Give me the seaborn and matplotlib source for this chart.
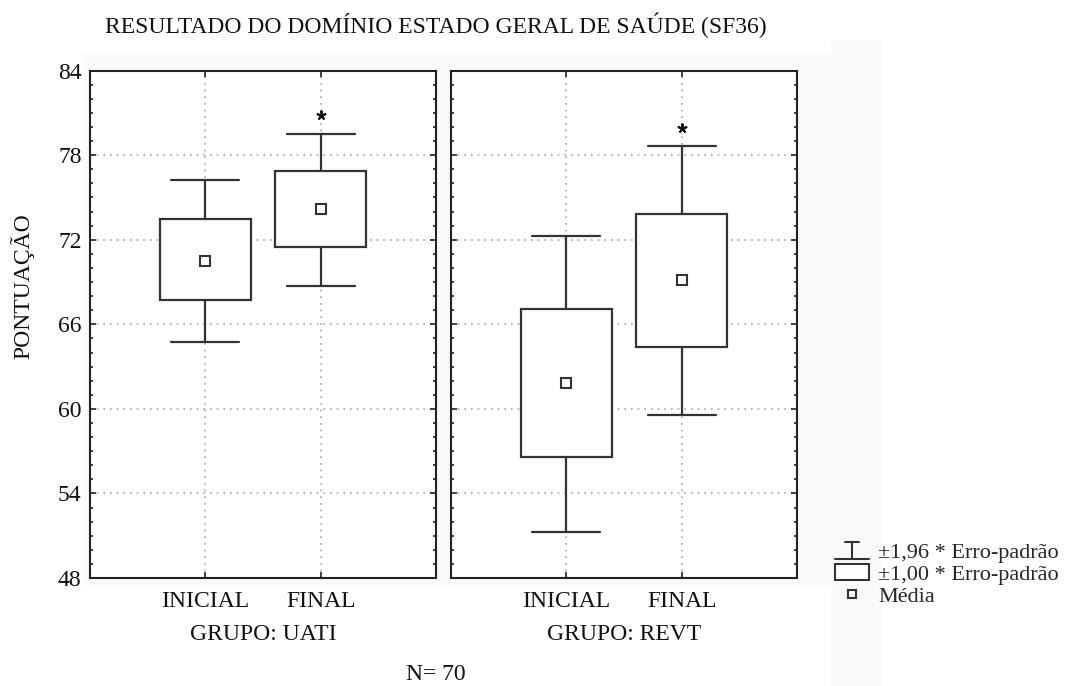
import numpy as np
import pandas as pd
import seaborn as sns
import matplotlib.pyplot as plt
from matplotlib.lines import Line2D
from matplotlib.patches import Patch, Rectangle
from matplotlib.legend_handler import HandlerBase
from matplotlib.ticker import MultipleLocator

# dados (media, +-1 erro padrao, +-1,96 erro padrao)
grupos = ["UATI", "UATI", "REVT", "REVT"]
momentos = ["INICIAL", "FINAL", "INICIAL", "FINAL"]
media = [70.52, 74.18, 61.84, 69.15]
caixa_inf = [67.73, 71.51, 56.56, 64.37]
caixa_sup = [73.50, 76.88, 67.06, 73.85]
bigode_inf = [64.75, 68.72, 51.26, 59.54]
bigode_sup = [76.24, 79.51, 72.25, 78.63]
asterisco = [np.nan, 80.86, np.nan, 79.90]

ordem_grupos = ["UATI", "REVT"]
ordem_momentos = ["INICIAL", "FINAL"]
cor = "#333333"
fs = 17

df = pd.DataFrame(dict(grupo=grupos, momento=momentos, media=media,
                       caixa_inf=caixa_inf, caixa_sup=caixa_sup,
                       bigode_inf=bigode_inf, bigode_sup=bigode_sup,
                       asterisco=asterisco))

sns.set_theme(style="white")
plt.rcParams["font.family"] = ["Liberation Serif", "DejaVu Serif"]
plt.rcParams["font.size"] = fs


def desenha_caixas(data, color=None, **kws):
    ax = plt.gca()
    stats = []
    for _, r in data.iterrows():
        stats.append(dict(med=r.media, mean=r.media, q1=r.caixa_inf,
                          q3=r.caixa_sup, whislo=r.bigode_inf,
                          whishi=r.bigode_sup, fliers=[], label=r.momento))
    pos = [ordem_momentos.index(m) for m in data.momento]
    ax.bxp(stats, positions=pos, widths=0.79, capwidths=0.59,
           patch_artist=True, showmeans=True, manage_ticks=False,
           boxprops=dict(facecolor="white", edgecolor=cor, linewidth=1.6),
           whiskerprops=dict(color=cor, linewidth=1.6),
           capprops=dict(color=cor, linewidth=1.6),
           medianprops=dict(linewidth=0),
           meanprops=dict(marker="s", markersize=6.5, markerfacecolor="white",
                          markeredgecolor=cor, markeredgewidth=1.5))
    est = data.dropna(subset=["asterisco"])
    ax.plot([ordem_momentos.index(m) for m in est.momento], est.asterisco,
            ls="none", marker=(5, 2, 0), ms=7, color="#111111", mew=1.4)


g = sns.FacetGrid(df, col="grupo", col_order=ordem_grupos, sharey=True,
                  despine=False, height=5, aspect=0.8)
g.map_dataframe(desenha_caixas)

fig = g.figure
fig.set_size_inches(10.76, 6.86)
fig.subplots_adjust(left=0.0836, right=0.7407, top=0.897, bottom=0.1574,
                    wspace=0.043)

for ax, nome in zip(g.axes.flat, ordem_grupos):
    ax.set_title("")
    ax.set_xlim(-1, 2)
    ax.set_ylim(48, 84)
    ax.set_xticks([0, 1], ordem_momentos)
    ax.set_yticks(range(48, 85, 6))
    ax.yaxis.set_minor_locator(MultipleLocator(1))
    ax.set_axisbelow(True)
    ax.grid(True, which="major", ls=(0, (1, 3)), color="#a8a8a8", lw=1.2)
    ax.tick_params(which="both", direction="in", left=True, right=True,
                   top=True, bottom=True, color="#222222", width=1.2,
                   labelsize=fs, labelcolor="#111111")
    ax.tick_params(which="major", length=4.5)
    ax.tick_params(which="minor", length=2.5, top=False, bottom=False)
    ax.tick_params(axis="x", pad=9)
    ax.tick_params(axis="y", pad=6)
    for s in ax.spines.values():
        s.set_color("#222222")
        s.set_linewidth(1.5)
    ax.set_xlabel(f"GRUPO: {nome}", fontsize=fs, color="#111111", labelpad=9)
    ax.set_ylabel("")
    ax.set_facecolor("white")

# fundo cinza bem claro (digitalizacao)
fig.patches.append(Rectangle((83 / 1076, 1 - 585 / 686), (881 - 83) / 1076,
                             (585 - 53) / 686, transform=fig.transFigure,
                             color="#fafafa", zorder=-10))
fig.patches.append(Rectangle((831 / 1076, 0), 50 / 1076, 1 - 40 / 686,
                             transform=fig.transFigure, color="#fafafa",
                             zorder=-10))

fig.text(105 / 1076, 1 - 33 / 686,
         "RESULTADO DO DOMÍNIO ESTADO GERAL DE SAÚDE (SF36)",
         ha="left", va="baseline", fontsize=fs, color="#111111")
fig.text(22 / 1076, 1 - 286 / 686, "PONTUAÇÃO", rotation=90, ha="center",
         va="center", fontsize=fs, color="#111111")
fig.text(436 / 1076, 1.5 / 686, "N= 70", ha="center", va="bottom",
         fontsize=fs, color="#111111")


class WhiskerHandler(HandlerBase):
    def create_artists(self, legend, orig_handle, xdescent, ydescent,
                       width, height, fontsize, trans):
        x0, x1 = -xdescent, -xdescent + width
        yb = -ydescent - 0.05 * height
        yt = -ydescent + 1.0 * height
        xm = (x0 + x1) / 2
        kw = dict(color=cor, lw=1.5, transform=trans)
        return [Line2D([x0, x1], [yb, yb], **kw),
                Line2D([xm, xm], [yb, yt], **kw),
                Line2D([xm - 0.2 * width, xm + 0.2 * width], [yt, yt], **kw)]


h_bigode = object()
h_caixa = Patch(facecolor="white", edgecolor=cor, linewidth=1.5)
h_media = Line2D([], [], ls="none", marker="s", markersize=6,
                 markerfacecolor="white", markeredgecolor=cor,
                 markeredgewidth=1.5)
fig.legend([h_bigode, h_caixa, h_media],
           ["±1,96 * Erro-padrão", "±1,00 * Erro-padrão", "Média"],
           handler_map={h_bigode: WhiskerHandler()},
           loc="upper left", bbox_to_anchor=(835 / 1076, 1 - 542 / 686),
           frameon=False, fontsize=16, handlelength=1.55, handleheight=0.75,
           handletextpad=0.4, labelspacing=0.05, borderaxespad=0,
           borderpad=0)

fig.savefig("out.png", dpi=100)
